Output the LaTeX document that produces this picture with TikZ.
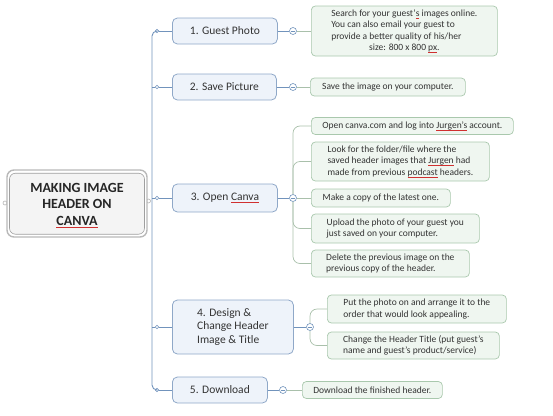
\documentclass[tikz,border=0pt]{standalone}
\usepackage{fontspec}
\setmainfont{Carlito}
\definecolor{trunkc}{HTML}{7193BC}
\definecolor{mainborder}{HTML}{8FA8C8}
\definecolor{mainfill}{HTML}{EEF3FA}
\definecolor{subborder}{HTML}{A9C8AD}
\definecolor{subfill}{HTML}{EFF6F0}
\definecolor{sublinec}{HTML}{A9C0AB}
\definecolor{textc}{HTML}{333333}
\definecolor{spellc}{HTML}{D03030}
\newcommand\spl[1]{\begingroup\setbox0=\hbox{#1}\rlap{\raisebox{-2pt}{\textcolor{spellc}{\rule{\wd0}{0.45pt}}}}\box0\endgroup}
\tikzset{
  mainbox/.style={draw=mainborder, fill=mainfill, rounded corners=5pt, line width=0.8pt,
    font=\fontsize{11.5}{13.5}\selectfont, text=textc, inner sep=0pt, anchor=west},
  subbox/.style={draw=subborder, fill=subfill, rounded corners=4pt, line width=0.7pt,
    font=\fontsize{9.5}{11.5}\selectfont, text=textc, inner sep=0pt, align=left, anchor=west},
  coll/.style={circle, draw=trunkc, fill=white, minimum size=7pt, inner sep=0pt, line width=0.6pt,
    path picture={\draw[trunkc, line width=0.6pt] ([xshift=-2pt]path picture bounding box.center) -- ([xshift=2pt]path picture bounding box.center);}},
  tdot/.style={circle, draw=trunkc, fill=white, minimum size=3.5pt, inner sep=0pt, line width=0.5pt},
  trunkline/.style={draw=trunkc, line width=0.9pt},
  subline/.style={draw=sublinec, line width=0.7pt},
  nub/.style={circle, draw=gray!60, fill=white, minimum size=4pt, inner sep=0pt, line width=0.6pt}
}
\begin{document}
\begin{tikzpicture}[x=1pt,y=-1pt]
\useasboundingbox (0,0) rectangle (553,415);
% root
\node[nub] (nubl) at (5,203) {};
\node[nub] (nubr) at (148.5,201) {};
\node[draw=gray!55, fill=white, line width=1.4pt, rounded corners=7pt, minimum width=140pt, minimum height=67pt] (rootframe) at (77,203.5) {};
\node[draw=gray!75, fill=gray!9, line width=0.6pt, rounded corners=6pt, minimum width=135pt, minimum height=61pt] (rootbox) at (77,203.7) {};
\node[align=center, font=\bfseries\fontsize{14}{16.5}\selectfont, text=black!85] (root) at (77,205) {MAKING IMAGE\\HEADER ON\\\spl{CANVA}};
% main nodes
\node[mainbox, minimum width=105pt, minimum height=26pt] (m1) at (172,31) {1. Guest Photo};
\node[mainbox, minimum width=104pt, minimum height=26pt] (m2) at (172,87) {2. Save Picture};
\node[mainbox, minimum width=105pt, minimum height=28pt] (m3) at (172,198) {3. Open \spl{Canva}};
\node[mainbox, minimum width=121pt, minimum height=54pt, align=left] (m4) at (172,327) {4. Design \&\\Change Header\\Image \& Title};
\node[mainbox, minimum width=95pt, minimum height=26pt] (m5) at (172,390) {5. Download};
% trunk dots
\node[tdot] (d1) at (157,31) {};
\node[tdot] (d2) at (157,87) {};
\node[tdot] (d3) at (157,198) {};
\node[tdot] (d4) at (157,327) {};
\node[tdot] (d5) at (157,390) {};
\coordinate (ttop) at (152,31);
\coordinate (tbot) at (152,390);
\draw[trunkline, rounded corners=5pt] (d1.west) -- (ttop) -- (tbot) -- (d5.west);
\draw[trunkline] (d2.west) -- (d2.west -| ttop);
\draw[trunkline] (d3.west) -- (d3.west -| ttop);
\draw[trunkline] (d4.west) -- (d4.west -| ttop);
\foreach \i in {1,...,5} {\draw[trunkline] (d\i.east) -- (m\i.west);}
% collapse circles
\node[coll] (c1) at (293,31) {};
\node[coll] (c2) at (293,87) {};
\node[coll] (c3) at (293,198) {};
\node[coll] (c4) at (310,327) {};
\node[coll] (c5) at (283,390) {};
\foreach \i in {1,...,5} {\draw[trunkline] (m\i.east) -- (c\i.west);}
% sub nodes
\node[subbox, minimum width=186pt, minimum height=50pt] (s1) at (311,31) {\begin{tabular}{@{}l@{}}Search for your guest'\spl{s} images online.\\You can also email your guest to\\provide a better quality of his/her\\\multicolumn{1}{@{}c@{}}{size: 800 x 800 \spl{px}.}\end{tabular}};
\node[subbox, minimum width=155pt, minimum height=18pt] (s2) at (310,87) {Save the image on your computer.};
\node[subbox, minimum width=202pt, minimum height=17pt] (s3a) at (311,126) {Open canva.com and log into \spl{Jurgen's} account.};
\node[subbox, minimum width=178pt, minimum height=39pt] (s3b) at (311,161.5) {Look for the folder/file where the\\saved header images that \spl{Jurgen} had\\made from previous \spl{podcast} headers.};
\node[subbox, minimum width=139pt, minimum height=18pt] (s3c) at (311,198) {Make a copy of the latest one.};
\node[subbox, minimum width=168pt, minimum height=29pt] (s3d) at (311,228.5) {Upload the photo of your guest you\\just saved on your computer.};
\node[subbox, minimum width=158pt, minimum height=27pt] (s3e) at (311,263.5) {Delete the previous image on the\\previous copy of the header.};
\node[subbox, minimum width=179pt, minimum height=28pt] (s4a) at (327,309) {Put the photo on and arrange it to the\\order that would look appealing.};
\node[subbox, minimum width=172pt, minimum height=27pt] (s4b) at (327,345.5) {Change the Header Title (put guest's\\name and guest's product/service)};
\node[subbox, minimum width=140pt, minimum height=17pt] (s5) at (302,390) {Download the finished header.};
% sub connectors
\draw[subline] (c1.east) -- (s1.west);
\draw[subline] (c2.east) -- (s2.west);
\draw[subline] (c3.east) -- (s3c.west);
\draw[subline, rounded corners=7pt] (c3.north) |- (s3a.west);
\draw[subline, rounded corners=7pt] (c3.north) |- (s3b.west);
\draw[subline, rounded corners=7pt] (c3.south) |- (s3d.west);
\draw[subline, rounded corners=7pt] (c3.south) |- (s3e.west);
\draw[subline, rounded corners=7pt] (c4.north) |- (s4a.west);
\draw[subline, rounded corners=7pt] (c4.south) |- (s4b.west);
\draw[subline] (c5.east) -- (s5.west);
\end{tikzpicture}
\end{document}
